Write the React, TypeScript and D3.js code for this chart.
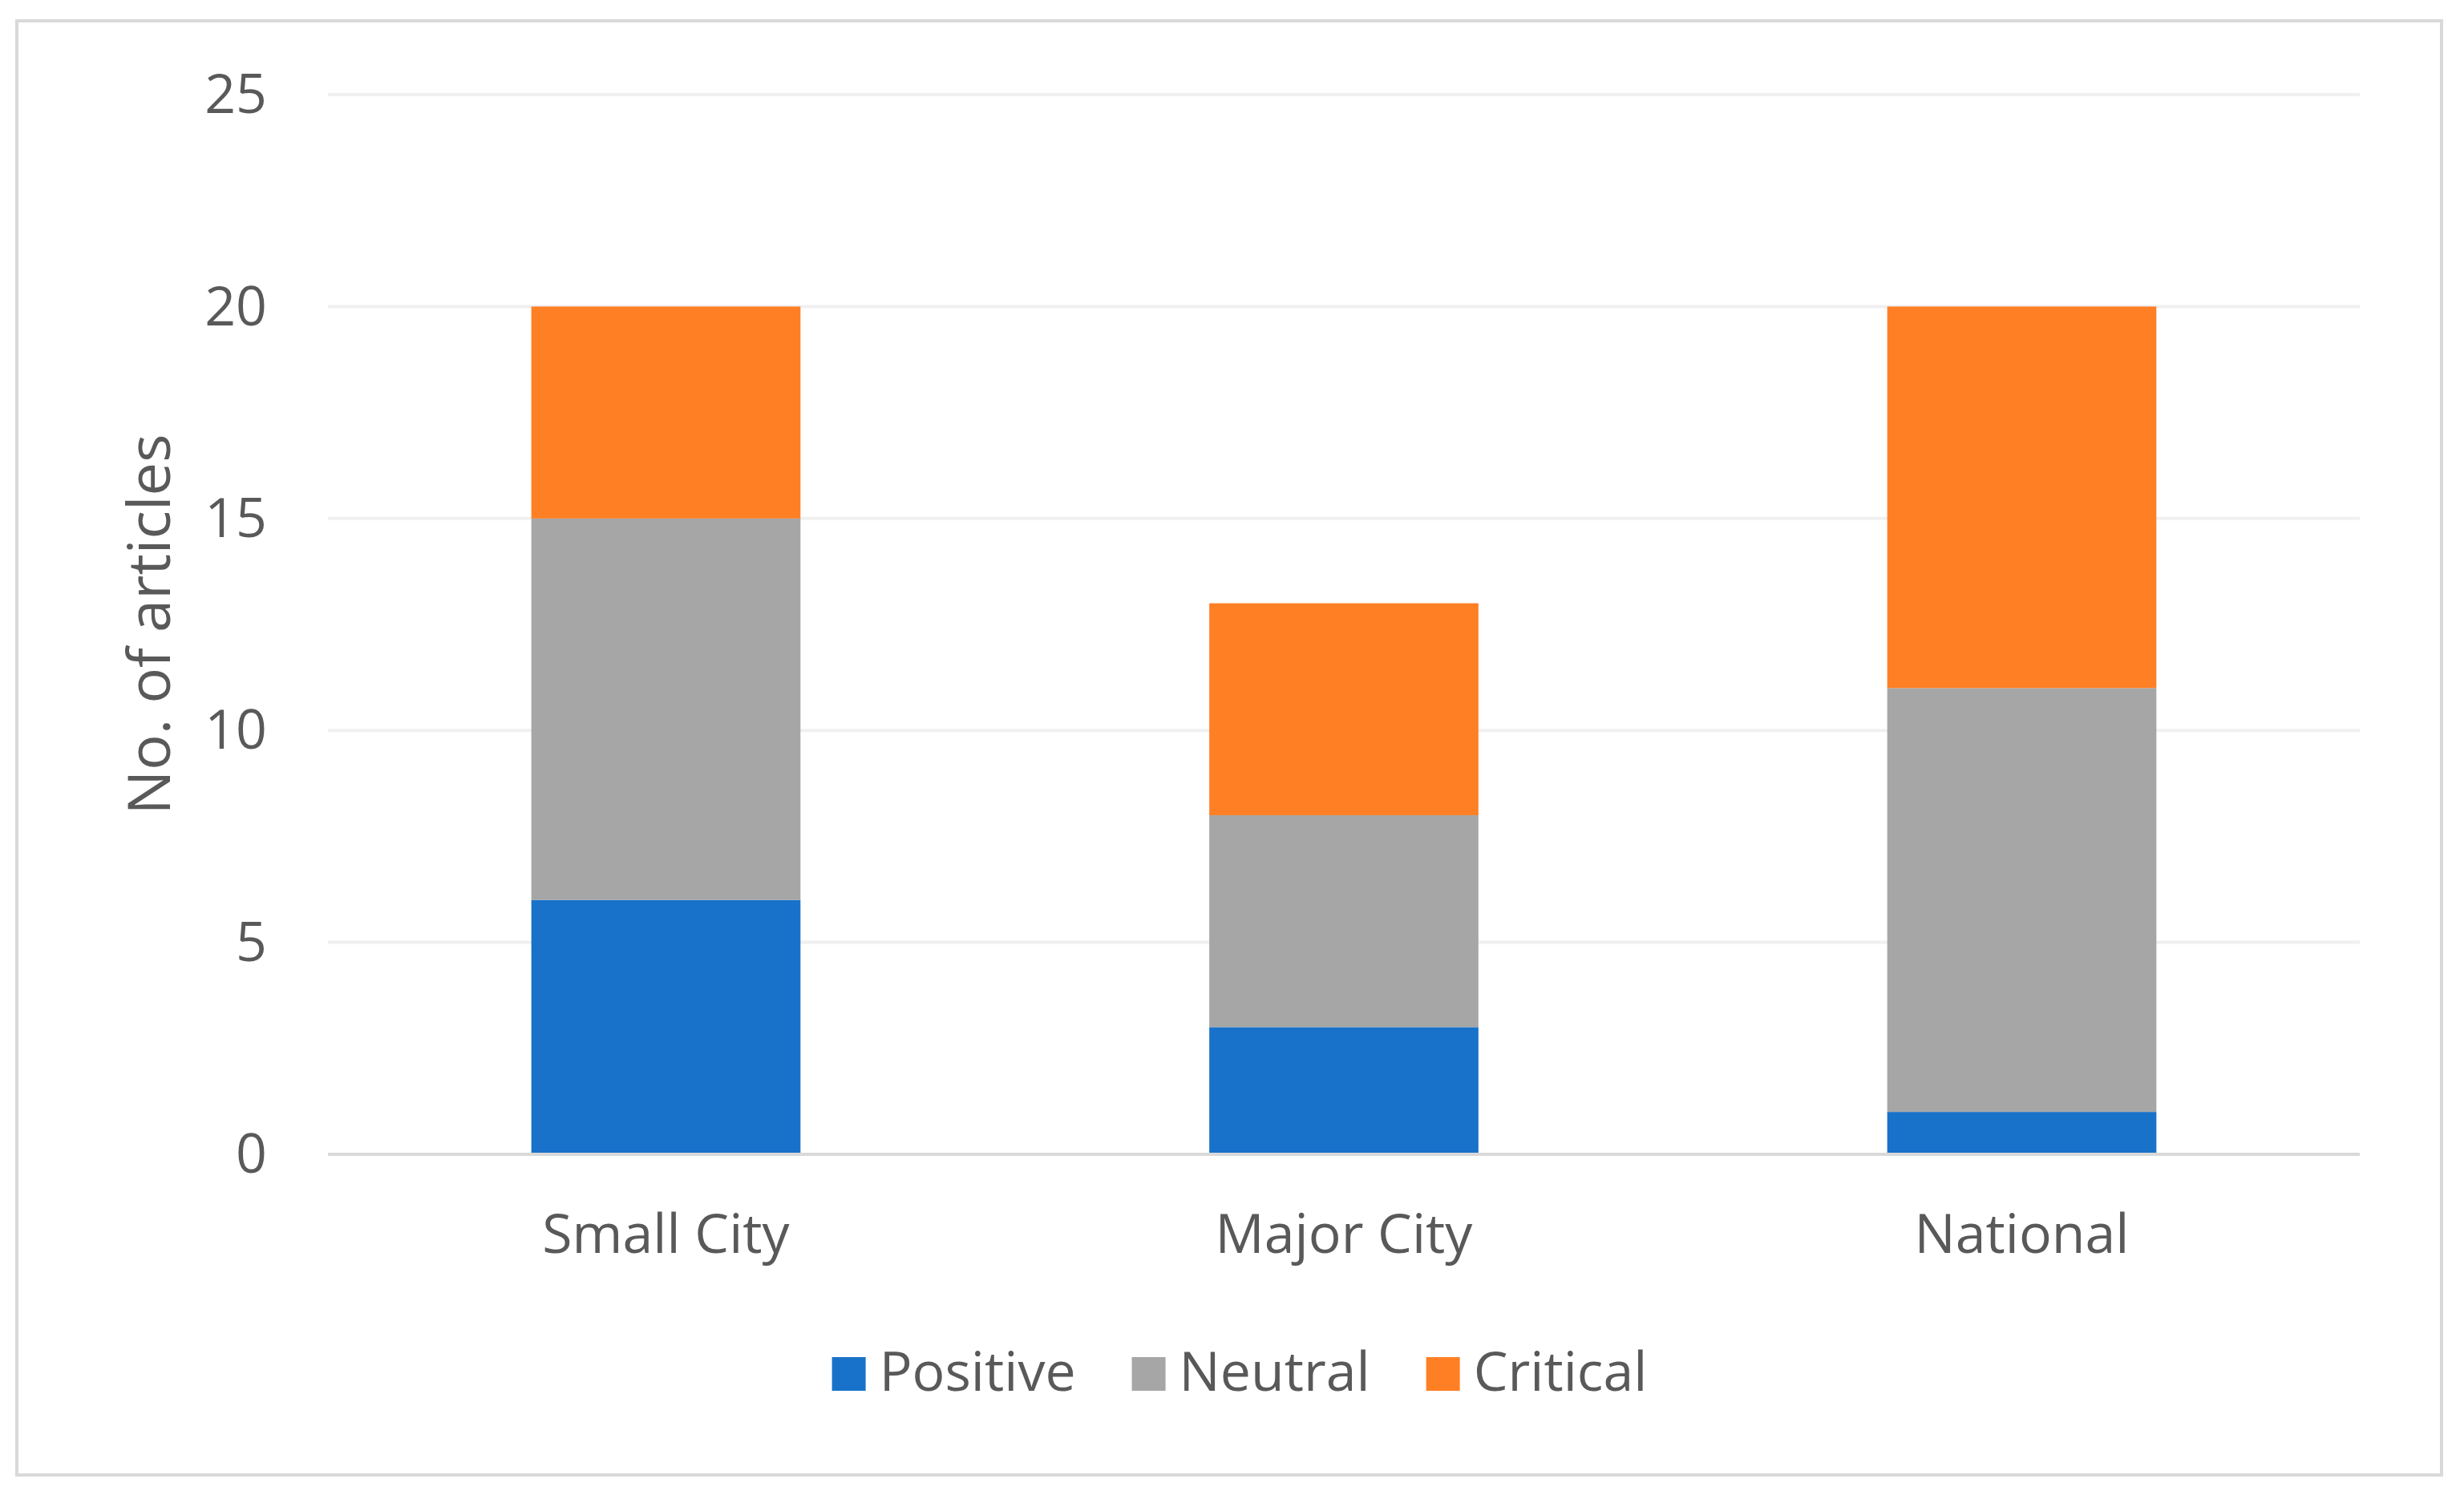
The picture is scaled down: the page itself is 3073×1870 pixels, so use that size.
import React, { useEffect, useRef } from "react";
import * as d3 from "d3";

const categories = ["Small City", "Major City", "National"];
const seriesNames = ["Positive", "Neutral", "Critical"];
const positive = [6, 3, 1];
const neutral = [9, 5, 10];
const critical = [5, 5, 9];
const yTicks = [0, 5, 10, 15, 20, 25];
const colors = ["#1872c9", "#a6a6a6", "#ff7f24"];

const W = 3073;
const H = 1870;
const FONT = "'Open Sans', 'Noto Sans', sans-serif";
const TEXT = "#595959";

export default function App() {
  const ref = useRef<SVGSVGElement | null>(null);

  useEffect(() => {
    const svg = d3.select(ref.current);
    svg.selectAll("*").remove();

    const frame = { left: 21, top: 26, right: 3045, bottom: 1840 };
    const plot = { left: 409, right: 2943, top: 118, bottom: 1440 };

    svg.append("rect").attr("x", 0).attr("y", 0).attr("width", W).attr("height", H).attr("fill", "#ffffff");
    svg
      .append("rect")
      .attr("x", frame.left)
      .attr("y", frame.top)
      .attr("width", frame.right - frame.left)
      .attr("height", frame.bottom - frame.top)
      .attr("fill", "#ffffff")
      .attr("stroke", "#d9d9d9")
      .attr("stroke-width", 4);

    const x = d3.scaleBand<string>().domain(categories).range([plot.left, plot.right]).paddingInner(0.603).paddingOuter(0.3);
    const y = d3.scaleLinear().domain([0, 25]).range([plot.bottom, plot.top]);

    // gridlines
    svg
      .append("g")
      .selectAll("line")
      .data(yTicks.filter((t) => t !== 0))
      .join("line")
      .attr("x1", plot.left)
      .attr("x2", plot.right)
      .attr("y1", (d) => y(d))
      .attr("y2", (d) => y(d))
      .attr("stroke", "#f0f0f0")
      .attr("stroke-width", 4);

    // stacked data
    const rows = categories.map((c, i) => ({ cat: c, Positive: positive[i], Neutral: neutral[i], Critical: critical[i] }));
    const stack = d3.stack<any>().keys(seriesNames)(rows);

    svg
      .append("g")
      .selectAll("g")
      .data(stack)
      .join("g")
      .attr("fill", (_d, i) => colors[i])
      .selectAll("rect")
      .data((d) => d)
      .join("rect")
      .attr("x", (d: any) => x(d.data.cat)!)
      .attr("width", x.bandwidth())
      .attr("y", (d: any) => y(d[1]))
      .attr("height", (d: any) => y(d[0]) - y(d[1]));

    // zero axis line
    svg
      .append("line")
      .attr("x1", plot.left)
      .attr("x2", plot.right)
      .attr("y1", y(0))
      .attr("y2", y(0))
      .attr("stroke", "#d9d9d9")
      .attr("stroke-width", 4);

    // y tick labels
    svg
      .append("g")
      .selectAll("text")
      .data(yTicks)
      .join("text")
      .attr("x", 333)
      .attr("y", (d) => y(d))
      .attr("dy", "0.34em")
      .attr("text-anchor", "end")
      .attr("font-family", FONT)
      .attr("font-size", 68)
      .attr("fill", TEXT)
      .text((d) => String(d));

    // category labels
    svg
      .append("g")
      .selectAll("text")
      .data(categories)
      .join("text")
      .attr("x", (d) => x(d)! + x.bandwidth() / 2)
      .attr("y", 1563)
      .attr("text-anchor", "middle")
      .attr("font-family", FONT)
      .attr("font-size", 68)
      .attr("fill", TEXT)
      .text((d) => d);

    // y axis title
    svg
      .append("text")
      .attr("transform", `translate(212, ${(plot.top + plot.bottom) / 2}) rotate(-90)`)
      .attr("text-anchor", "middle")
      .attr("font-family", FONT)
      .attr("font-size", 74)
      .attr("fill", TEXT)
      .text("No. of articles");

    // legend
    const sq = 42;
    const gapText = 17;
    const gapItem = 70;
    const legend = svg.append("g");
    const items = seriesNames.map((name, i) => {
      const g = legend.append("g");
      g.append("rect").attr("width", sq).attr("height", sq).attr("y", -sq).attr("fill", colors[i]);
      const t = g
        .append("text")
        .attr("x", sq + gapText)
        .attr("y", 0)
        .attr("font-family", FONT)
        .attr("font-size", 68)
        .attr("fill", TEXT)
        .text(name);
      const w = (t.node() as SVGTextElement).getComputedTextLength();
      return { g, w: sq + gapText + w };
    });
    const total = d3.sum(items, (d) => d.w) + gapItem * (items.length - 1);
    let cx = 1546 - total / 2;
    items.forEach((it) => {
      it.g.attr("transform", `translate(${cx}, 1735)`);
      cx += it.w + gapItem;
    });
  }, []);

  return (
    <svg
      ref={ref}
      width={W}
      height={H}
      viewBox={`0 0 ${W} ${H}`}
      style={{ position: "absolute", left: 0, top: 0, display: "block" }}
    />
  );
}
